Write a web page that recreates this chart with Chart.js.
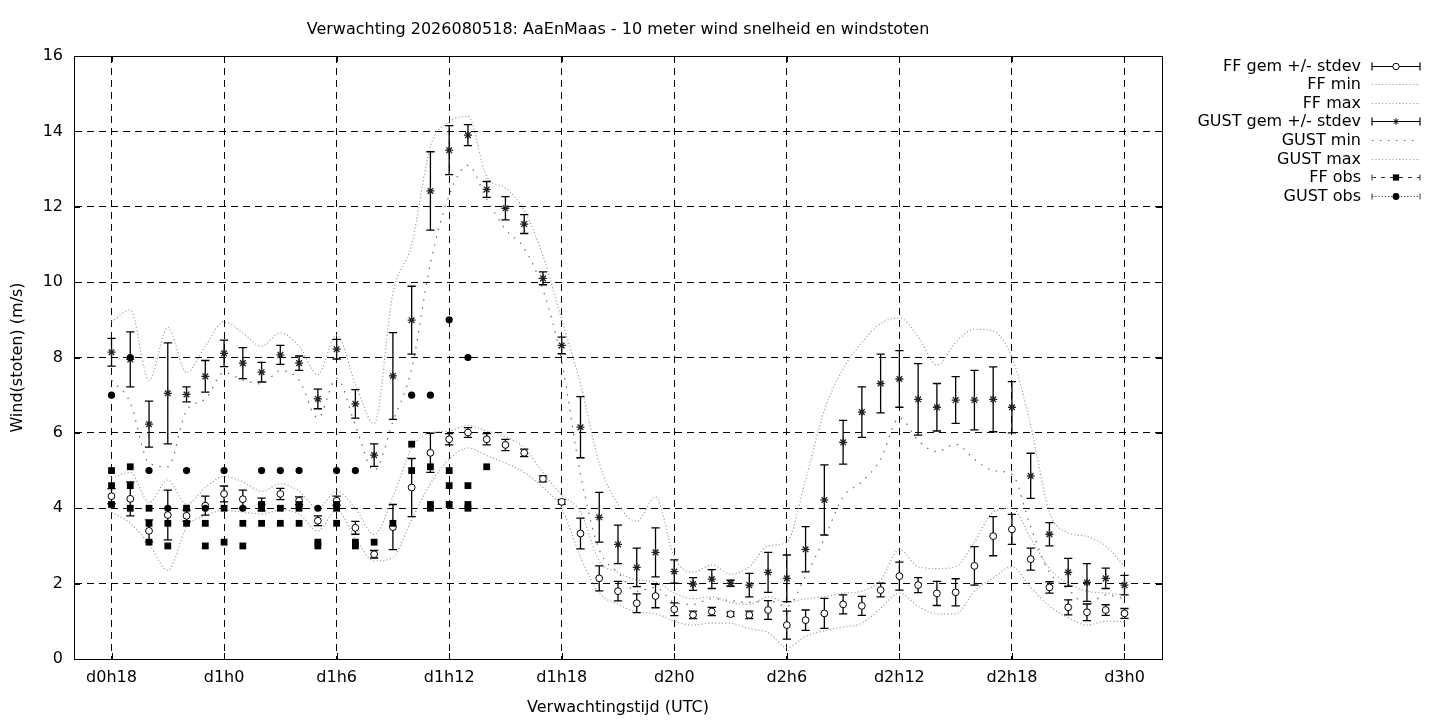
<!DOCTYPE html>
<html>
<head>
<meta charset="utf-8">
<script src="https://cdn.jsdelivr.net/npm/chart.js@4.4.1/dist/chart.umd.min.js"></script>
<style>
html,body{margin:0;padding:0;background:#fff;}
#wrap{width:1440px;height:720px;position:relative;}
</style>
</head>
<body>
<div id="wrap"><canvas id="c" width="1440" height="720"></canvas></div>
<script>
// ---------- DATA ----------
const titleText = 'Verwachting 2026080518: AaEnMaas - 10 meter wind snelheid en windstoten';
const xTitle = 'Verwachtingstijd (UTC)';
const yTitle = 'Wind(stoten) (m/s)';

const tickHours  = [18, 24, 30, 36, 42, 48, 54, 60, 66, 72];
const tickLabels = ['d0h18', 'd1h0', 'd1h6', 'd1h12', 'd1h18', 'd2h0', 'd2h6', 'd2h12', 'd2h18', 'd3h0'];

const hours = [18,19,20,21,22,23,24,25,26,27,28,29,30,31,32,33,34,35,36,37,38,39,40,41,42,43,44,45,46,47,
               48,49,50,51,52,53,54,55,56,57,58,59,60,61,62,63,64,65,66,67,68,69,70,71,72];

const ffMean = [4.32,4.25,3.40,3.82,3.80,4.07,4.38,4.24,4.10,4.38,
                4.20,3.67,4.20,3.48,2.78,3.50,4.55,5.47,5.83,6.01,
                5.83,5.68,5.47,4.78,4.17,3.33,2.14,1.80,1.48,1.67,
                1.32,1.17,1.26,1.19,1.17,1.30,0.90,1.03,1.21,1.45,
                1.41,1.83,2.20,1.96,1.74,1.77,2.47,3.26,3.44,2.65,
                1.90,1.37,1.24,1.30,1.21];
const ffSd   = [0.20,0.45,0.29,0.66,0.15,0.25,0.21,0.24,0.17,0.15,
                0.10,0.13,0.12,0.17,0.10,0.60,0.77,0.52,0.15,0.13,
                0.15,0.15,0.10,0.08,0.06,0.41,0.33,0.26,0.25,0.31,
                0.17,0.10,0.11,0.06,0.10,0.25,0.37,0.27,0.40,0.25,
                0.25,0.18,0.37,0.20,0.32,0.36,0.51,0.52,0.40,0.29,
                0.15,0.20,0.22,0.14,0.13];
const ffMin  = [3.90,3.60,3.05,2.35,3.50,3.80,3.95,3.90,3.85,3.95,
                3.85,3.40,3.95,3.20,2.60,2.70,3.70,4.65,5.30,5.60,
                5.40,5.20,4.95,4.55,4.00,2.70,1.75,1.45,1.25,1.20,
                1.00,0.90,0.95,0.95,0.80,0.70,0.30,0.60,0.75,0.85,
                0.95,1.35,1.75,1.40,1.20,1.20,1.80,2.15,2.45,1.90,
                1.40,1.10,0.90,1.00,1.00];
const ffMax  = [4.80,4.95,4.15,4.75,4.10,4.55,4.85,4.70,4.45,4.65,
                4.45,4.00,4.45,4.00,3.30,4.30,5.60,6.00,6.05,6.20,
                6.05,5.90,5.60,4.95,4.35,3.90,2.60,2.30,2.10,2.05,
                1.75,1.60,1.65,1.50,1.45,1.65,1.50,1.60,1.65,1.75,
                1.80,2.10,2.90,2.45,2.40,2.45,3.10,3.90,4.00,3.20,
                2.40,2.00,1.80,1.75,1.70];

const gustMean = [8.14,7.95,6.23,7.05,7.02,7.50,8.11,7.85,7.61,8.07,
                  7.85,6.90,8.22,6.77,5.41,7.51,8.99,12.42,13.50,13.90,
                  12.46,11.96,11.54,10.10,8.32,6.15,3.76,3.04,2.43,2.83,
                  2.32,1.99,2.12,2.01,1.96,2.30,2.14,2.91,4.22,5.75,
                  6.55,7.31,7.43,6.89,6.68,6.87,6.87,6.89,6.68,4.86,
                  3.31,2.30,2.03,2.14,1.96];
const gustSd   = [0.37,0.73,0.61,1.34,0.20,0.42,0.35,0.41,0.26,0.25,
                  0.19,0.26,0.26,0.38,0.30,1.15,0.90,1.04,0.65,0.28,
                  0.21,0.31,0.25,0.17,0.22,0.81,0.66,0.51,0.51,0.65,
                  0.31,0.17,0.25,0.08,0.31,0.53,0.62,0.60,0.93,0.58,
                  0.67,0.78,0.75,0.95,0.63,0.62,0.79,0.86,0.68,0.60,
                  0.31,0.37,0.50,0.27,0.26];
const gustMin  = [7.40,6.80,5.20,5.10,6.60,6.90,7.60,7.40,7.30,7.65,
                  7.40,6.40,7.45,6.20,5.00,6.30,7.70,10.50,12.30,13.10,
                  12.20,11.40,10.90,9.80,7.90,4.90,2.90,2.30,1.80,1.90,
                  1.50,1.45,1.60,1.55,1.50,1.55,1.40,2.20,3.20,4.30,
                  4.70,5.30,6.40,5.80,5.50,5.70,5.30,5.00,4.90,3.50,
                  2.30,1.85,1.45,1.70,1.60];
const gustMax  = [8.95,9.26,7.40,8.80,7.60,8.30,8.95,8.65,8.30,8.65,
                  8.30,7.55,8.60,7.30,6.25,9.70,11.00,13.60,14.25,14.40,
                  12.80,12.50,11.90,10.70,9.00,7.30,5.20,4.10,3.65,4.30,
                  2.70,2.30,2.50,2.25,2.45,3.00,3.10,4.75,6.60,7.70,
                  8.40,8.90,9.05,8.55,7.80,8.40,8.75,8.70,8.00,6.20,
                  3.90,3.35,3.25,3.00,2.45];

const obsHours = [18,19,20,21,22,23,24,25,26,27,28,29,30,31,32,33,34,35,36,37,38];
const ffObs = [[5.0,4.6,4.1],[5.1,4.6,4.0],[4.0,3.6,3.1],[3.6,3.0],[4.0,3.6],[3.6,3.0],[4.0,3.1],
               [3.6,3.0],[4.1,4.0,3.6],[4.0,3.6],[4.1,4.0,3.6],[3.1,3.0],[4.1,4.0,3.6],[3.1,3.0],
               [3.1],[3.6],[5.7,5.0],[5.1,4.1,4.0],[5.0,4.6,4.1],[4.6,4.1,4.0],[5.1]];
const gustObs = [7,8,5,4,5,4,5,4,5,5,5,4,5,5,null,null,7,7,9,8,null];

const legendLabels = ['FF gem +/- stdev','FF min','FF max','GUST gem +/- stdev','GUST min','GUST max','FF obs','GUST obs'];

// ---------- BUILD ----------
const FONT = "'DejaVu Sans', Arial, sans-serif";
const FS = 16;
const capHalf = 0.22;
function errData(mean, sd) {
  const out = [];
  hours.forEach((h, i) => {
    const lo = mean[i] - sd[i], hi = mean[i] + sd[i];
    out.push({x:h, y:lo}, {x:h, y:hi}, {x:h, y:null});
    out.push({x:h-capHalf, y:lo}, {x:h+capHalf, y:lo}, {x:h, y:null});
    out.push({x:h-capHalf, y:hi}, {x:h+capHalf, y:hi}, {x:h, y:null});
  });
  return out;
}
const series = arr => hours.map((h, i) => ({x:h, y:arr[i]}));
const ffObsPts = [];
ffObs.forEach((vals, i) => vals.forEach(v => ffObsPts.push({x:obsHours[i], y:v})));
const gustObsPts = obsHours.map((h, i) => ({x:h, y:gustObs[i]}));

const lightDot = {color:'#a0a0a0', dash:[1.2,2.2]};
const darkDot  = {color:'#6a6a6a', dash:[1.5,6.5]};

function envelope(arr, st, ord) {
  return {data: series(arr), showLine:true, borderColor:st.color, borderWidth:1.2, borderDash:st.dash,
          pointRadius:0, cubicInterpolationMode:'monotone', fill:false, order:ord};
}

const datasets = [
  {data: gustObsPts, pointStyle:'circle', pointRadius:3.6, backgroundColor:'#000', borderColor:'#000', borderWidth:0, showLine:false, order:0},
  {data: ffObsPts, pointStyle:'rect', pointRadius:4.8, backgroundColor:'#000', borderColor:'#000', borderWidth:0, showLine:false, order:1},
  {data: series(ffMean), pointStyle:'circle', pointRadius:3.4, backgroundColor:'#fff', borderColor:'#000', borderWidth:1, showLine:false, order:2},
  {data: series(gustMean), pointStyle:'star', pointRadius:4, backgroundColor:'#000', borderColor:'#222', borderWidth:1.3, showLine:false, order:3},
  {data: errData(ffMean, ffSd), showLine:true, borderColor:'#000', borderWidth:1.3, pointRadius:0, spanGaps:false, order:4},
  {data: errData(gustMean, gustSd), showLine:true, borderColor:'#000', borderWidth:1.3, pointRadius:0, spanGaps:false, order:5},
  envelope(ffMin, lightDot, 6),
  envelope(ffMax, lightDot, 7),
  envelope(gustMin, darkDot, 8),
  envelope(gustMax, lightDot, 9)
];

// legend + frame plugin
const legendSamples = [
  {type:'err', style:'circle', fill:'#fff'},
  {type:'line', st:lightDot},
  {type:'line', st:lightDot},
  {type:'err', style:'star', fill:'#000'},
  {type:'line', st:darkDot},
  {type:'line', st:lightDot},
  {type:'obs', style:'rect', dash:[4,5], r:4.4},
  {type:'obs', style:'circle', dash:[1.2,2], r:3.4}
];

const framePlugin = {
  id:'frame',
  afterDraw(chart) {
    const {ctx, chartArea:a, scales} = chart;
    ctx.save();
    ctx.strokeStyle = '#000';
    ctx.lineWidth = 1;
    ctx.setLineDash([]);
    ctx.strokeRect(Math.round(a.left)+0.5, Math.round(a.top)+0.5, Math.round(a.right-a.left), Math.round(a.bottom-a.top));
    // inward tick marks
    ctx.beginPath();
    tickHours.forEach(v => {
      const px = Math.round(scales.x.getPixelForValue(v)) + 0.5;
      ctx.moveTo(px, a.bottom); ctx.lineTo(px, a.bottom - 6);
      ctx.moveTo(px, a.top); ctx.lineTo(px, a.top + 6);
    });
    scales.y.ticks.forEach(t => {
      const py = Math.round(scales.y.getPixelForValue(t.value)) + 0.5;
      ctx.moveTo(a.left, py); ctx.lineTo(a.left + 6, py);
      ctx.moveTo(a.right, py); ctx.lineTo(a.right - 6, py);
    });
    ctx.stroke();

    // legend
    const xText = 1361, x1 = 1372, x2 = 1420, xm = (x1 + x2) / 2;
    ctx.font = FS + 'px ' + FONT;
    ctx.fillStyle = '#000';
    ctx.textAlign = 'right';
    ctx.textBaseline = 'middle';
    legendLabels.forEach((lab, i) => {
      const y = Math.round(65.5 + i * 18.6) + 0.5;
      ctx.fillText(lab, xText, y);
      const s = legendSamples[i];
      ctx.save();
      if (s.type === 'err') {
        ctx.strokeStyle = '#000'; ctx.lineWidth = 1.2; ctx.setLineDash([]);
        ctx.beginPath();
        ctx.moveTo(x1, y); ctx.lineTo(x2, y);
        ctx.moveTo(x1, y-4); ctx.lineTo(x1, y+4);
        ctx.moveTo(x2, y-4); ctx.lineTo(x2, y+4);
        ctx.stroke();
        ctx.fillStyle = s.fill; ctx.strokeStyle = '#000'; ctx.lineWidth = 1;
        Chart.helpers.drawPoint(ctx, {pointStyle:s.style, radius:3.2, borderWidth:1, rotation:0}, xm, y);
      } else if (s.type === 'line') {
        ctx.strokeStyle = s.st.color; ctx.lineWidth = 1.2; ctx.setLineDash(s.st.dash);
        ctx.beginPath(); ctx.moveTo(x1, y); ctx.lineTo(x2, y); ctx.stroke();
      } else {
        ctx.strokeStyle = '#333'; ctx.lineWidth = 1; ctx.setLineDash(s.dash);
        ctx.beginPath(); ctx.moveTo(x1, y); ctx.lineTo(x2, y); ctx.stroke();
        ctx.setLineDash([]);
        ctx.beginPath();
        ctx.moveTo(x1, y-3); ctx.lineTo(x1, y+3);
        ctx.moveTo(x2, y-3); ctx.lineTo(x2, y+3);
        ctx.stroke();
        ctx.fillStyle = '#000'; ctx.strokeStyle = '#000';
        Chart.helpers.drawPoint(ctx, {pointStyle:s.style, radius:s.r, borderWidth:0, rotation:0}, xm, y);
      }
      ctx.restore();
    });
    ctx.restore();
  }
};

Chart.defaults.font.family = FONT;
Chart.defaults.font.size = FS;
Chart.defaults.color = '#000';

new Chart(document.getElementById('c'), {
  type: 'scatter',
  data: {datasets},
  options: {
    responsive: false,
    animation: false,
    devicePixelRatio: 1,
    layout: {padding: {left: 0, right: 278, top: 0, bottom: 0}},
    plugins: {
      legend: {display: false},
      tooltip: {enabled: false},
      title: {display: true, text: titleText, fullSize: false, color:'#000',
              font: {size: FS, weight: 'normal', family: FONT}, padding: {top: 20, bottom: 16.8}}
    },
    scales: {
      x: {
        type: 'linear', min: 16, max: 74,
        afterBuildTicks: axis => { axis.ticks = tickHours.map(v => ({value: v})); },
        afterFit: s => { s.height = 61; },
        ticks: {callback: v => tickLabels[tickHours.indexOf(v)], autoSkip: false, maxRotation: 0, padding: 9, color:'#000', font:{size:FS}},
        grid: {color: '#000', lineWidth: 1, drawTicks: false},
        border: {display: true, color: '#000', dash: [7, 5]},
        title: {display: true, text: xTitle, color:'#000', font: {size: FS}, padding: {top: 4, bottom: 3}}
      },
      y: {
        type: 'linear', min: 0, max: 16,
        afterFit: s => { s.width = 74; },
        ticks: {stepSize: 2, padding: 11, color:'#000', font:{size:FS}},
        grid: {color: '#000', lineWidth: 1, drawTicks: false},
        border: {display: true, color: '#000', dash: [7, 5]},
        title: {display: true, text: yTitle, color:'#000', font: {size: FS}, padding: {top: 8, bottom: 4}}
      }
    }
  },
  plugins: [framePlugin]
});
</script>
</body>
</html>
